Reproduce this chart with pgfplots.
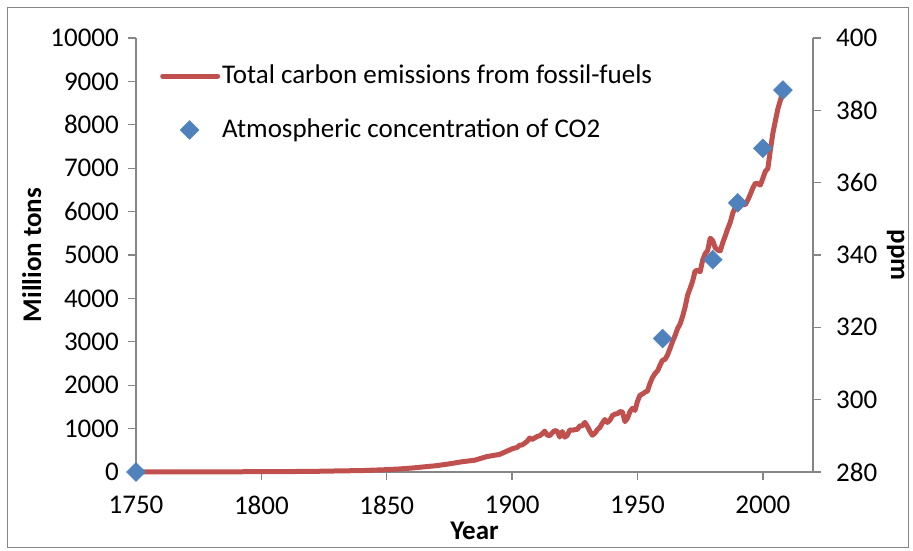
\documentclass[border=0pt]{standalone}
\usepackage{fontspec}
\setmainfont{Carlito}
\usepackage{pgfplots}
\usepackage{pgfplotstable}
\pgfplotsset{compat=1.18}
\definecolor{emis}{HTML}{C0504D}
\definecolor{conc}{HTML}{4F81BD}
\definecolor{axgray}{HTML}{868686}

% fossil-fuel carbon emissions, million tons
\pgfplotstableread{
year mt
1750 3
1760 3
1770 4
1780 4
1790 5
1800 8
1810 10
1820 14
1830 24
1840 33
1850 54
1855 70
1860 91
1865 119
1870 147
1875 188
1880 236
1885 271
1890 356
1895 405
1900 534
1901 552
1902 566
1903 617
1904 624
1905 663
1906 707
1907 784
1908 750
1909 785
1910 819
1911 836
1912 879
1913 943
1914 850
1915 838
1916 901
1917 955
1918 936
1919 806
1920 932
1921 803
1922 845
1923 970
1924 963
1925 975
1926 983
1927 1062
1928 1065
1929 1145
1930 1053
1931 940
1932 847
1933 893
1934 973
1935 1027
1936 1130
1937 1209
1938 1142
1939 1192
1940 1299
1941 1334
1942 1342
1943 1391
1944 1383
1945 1160
1946 1238
1947 1392
1948 1469
1949 1419
1950 1630
1951 1768
1952 1796
1953 1841
1954 1865
1955 2043
1956 2178
1957 2270
1958 2330
1959 2462
1960 2577
1961 2594
1962 2700
1963 2848
1964 3008
1965 3145
1966 3305
1967 3411
1968 3588
1969 3800
1970 4076
1971 4231
1972 4399
1973 4635
1974 4644
1975 4615
1976 4883
1977 5029
1978 5105
1979 5387
1980 5332
1981 5168
1982 5113
1983 5094
1984 5280
1985 5439
1986 5607
1987 5752
1988 5965
1989 6097
1990 6127
1991 6217
1992 6164
1993 6162
1994 6266
1995 6398
1996 6542
1997 6651
1998 6643
1999 6610
2000 6765
2001 6927
2002 6996
2003 7416
2004 7807
2005 8093
2006 8370
2007 8566
2008 8783
}\emissions

% atmospheric CO2, ppm
\pgfplotstableread{
year ppm
1750 280
1960 316.9
1980 338.7
1990 354.4
2000 369.5
2008 385.6
}\cotwo

\pgfplotsset{
  carbon/.style={
    at={(0pt,0pt)}, anchor=south west,
    scale only axis, width=677pt, height=434pt,
    xmin=1750, xmax=2020,
    font=\fontsize{27}{32}\selectfont,
    tick label style={font=\fontsize{27}{32}\selectfont},
    axis line style={axgray, line width=1.3pt},
    tick style={axgray, line width=1.3pt},
    major tick length=8pt,
    tick align=outside,
    /pgf/number format/assume math mode=true,
    /pgf/number format/1000 sep={},
    scaled ticks=false,
    clip=false,
  },
  lineleg/.style={legend image code/.code={\draw[##1] (0pt,0pt) -- (55pt,0pt);}},
  markleg/.style={legend image code/.code={\draw[mark repeat=2, mark phase=2, ##1]
    plot coordinates {(0pt,0pt) (27pt,0pt) (54pt,0pt)};}},
}

\begin{document}
\fontsize{27}{32}\selectfont
\begin{tikzpicture}
\useasboundingbox (-136pt,-79pt) rectangle (777pt,472pt);
\begin{axis}[carbon,
  axis x line*=bottom, axis y line*=left,
  ymin=0, ymax=10000, ytick={0,1000,...,10000},
  xtick={1750,1800,...,2000},
  xticklabel style={yshift=-7pt},
  xlabel={\textbf{Year}},
  xlabel style={at={(axis description cs:0.5,-0.135)}, anchor=center},
  ylabel={\textbf{Million tons}},
  ylabel style={at={(axis description cs:-0.154,0.5)}, anchor=center},
]
\addplot[emis, line width=5pt, line join=round] table[x=year, y=mt] {\emissions};
\end{axis}
\begin{axis}[carbon,
  axis x line=none, axis y line*=right,
  ymin=280, ymax=400, ytick={280,300,...,400},
  yticklabel style={xshift=6pt},
  ylabel={\textbf{ppm}},
  ylabel style={at={(axis description cs:1.122,0.5)}, anchor=center, rotate=180},
  legend style={draw=none, fill=none, at={(axis description cs:0.031,0.948)}, anchor=north west,
    row sep=27pt, column sep=0pt, nodes={inner sep=2pt}},
  legend cell align=left,
]
\addlegendimage{emis, line width=5pt, line cap=round, lineleg}
\addlegendentry{Total carbon emissions from fossil-fuels}
\addplot[only marks, mark=square*, mark size=6.7pt, mark options={rotate=45, conc, draw=conc, fill=conc},
  markleg]
  table[x=year, y=ppm] {\cotwo};
\addlegendentry{Atmospheric concentration of CO2}
\end{axis}
\draw[axgray, line width=1pt] (-128pt,-76pt) rectangle (772pt,464pt);
\end{tikzpicture}
\end{document}
